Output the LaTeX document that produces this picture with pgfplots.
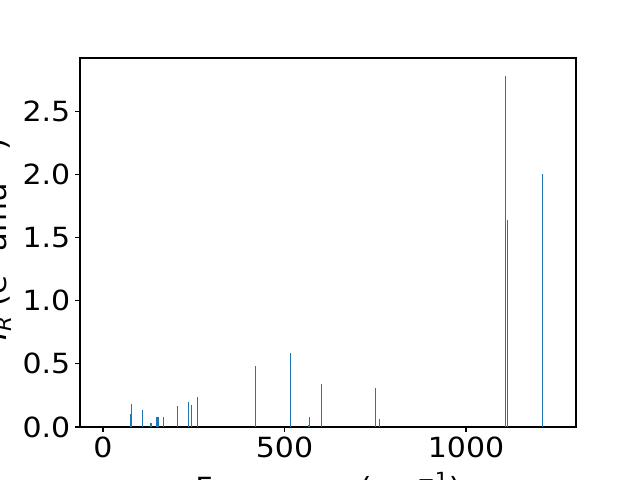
\documentclass[border=0pt]{standalone}
\usepackage{pgfplots}
\pgfplotsset{compat=1.18}
\usepackage{fontspec}
\setmainfont{DejaVu Sans}
\newfontfamily\widefont[FakeStretch=1.08]{DejaVu Sans}
\definecolor{mplblue}{HTML}{1F77B4}
\begin{document}
\begin{tikzpicture}
\clip (0,0) rectangle (460.8pt,345.6pt);
\path[use as bounding box] (0,0) rectangle (460.8pt,345.6pt);
\begin{axis}[
  at={(57.6pt,38.16pt)}, anchor=south west,
  scale only axis, width=357.12pt, height=265.68pt,
  xmin=-63.4, xmax=1303, ymin=0, ymax=2.92,
  xtick={0,500,1000}, ytick={0,0.5,1,1.5,2,2.5},
  xticklabel style={/pgf/number format/.cd, 1000 sep={}},
  yticklabel style={/pgf/number format/.cd, fixed, fixed zerofill, precision=1},
  /pgf/number format/assume math mode=true,
  tick align=outside, tick pos=left,
  major tick length=3.5pt,
  axis line style={line width=0.8pt},
  every tick/.style={black, line width=0.8pt},
  tick label style={font=\widefont\fontsize{20}{23}\selectfont},
  xlabel style={font=\widefont\fontsize{20}{23}\selectfont},
  ylabel style={font=\widefont\fontsize{20.5}{23}\selectfont},
  xlabel={Frequency (cm\textsuperscript{−1})},
  ylabel={\textit{I}\textsubscript{\textit{R}} (e\textsuperscript{2} amu\textsuperscript{−1})},
  xlabel style={at={(axis description cs:0.5,0)}, anchor=base, yshift=-50.5pt},
  ylabel style={at={(axis description cs:0,0.5)}, anchor=base, yshift=52.6pt, xshift=2pt},
  clip=false,
]
\addplot[ycomb, mplblue, line width=0.8pt, mark=none] coordinates {
(75,0.103) (78,0.18) (108,0.132) (130,0.029) (134,0.029)
(147,0.076) (151.5,0.076) (166,0.076) (204,0.163) (235,0.195)
(243,0.171) (260,0.235) (420,0.485) (516,0.588) (566,0.018)
(568,0.082) (601,0.343) (750,0.311) (761,0.066) (1108,2.78)
(1114,1.635) (1210,2.0)
};
\end{axis}
\end{tikzpicture}
\end{document}
